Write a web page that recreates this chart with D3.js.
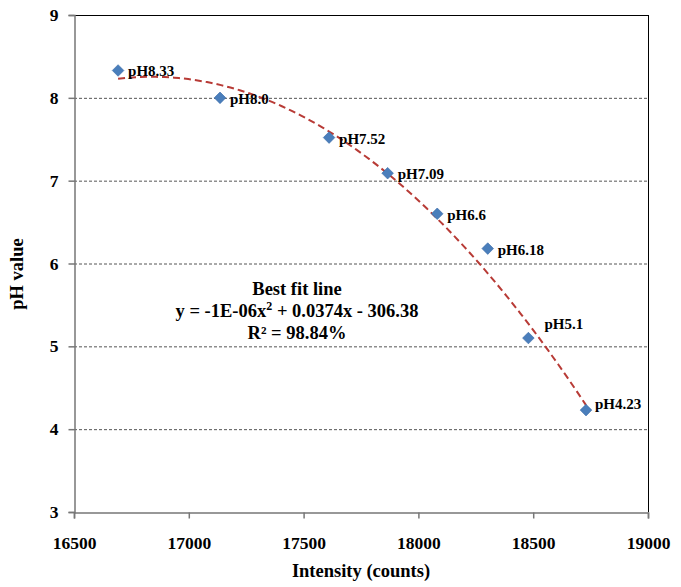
<!DOCTYPE html>
<html><head><meta charset="utf-8">
<script src="https://cdn.jsdelivr.net/npm/d3@7"></script>
<style>body{margin:0;background:#fff}</style>
</head><body>
<svg id="c" width="681" height="587"></svg>
<script>
const intensity = [16692, 17136, 17611, 17866, 18082, 18302, 18479, 18730];
const phValues  = [8.33, 8.0, 7.52, 7.09, 6.6, 6.18, 5.1, 4.23];
const pointLabels = ["pH8.33","pH8.0","pH7.52","pH7.09","pH6.6","pH6.18","pH5.1","pH4.23"];
const xTicks = [16500, 17000, 17500, 18000, 18500, 19000];
const yTicks = [3, 4, 5, 6, 7, 8, 9];
const annotationTitle = "Best fit line";
const equationParts = ["y = -1E-06x", "2", " + 0.0374x - 306.38"];
const rSquared = "R\u00B2 = 98.84%";
// label nudges (pixels) relative to the default right-of-point placement
const labelNudge = [[0,0],[0,0],[0,0],[0,0],[0,0],[0,0],[6,-15],[-1,-7]];

const svg = d3.select("#c");
const L = 74, R = 648, T = 15, B = 512;
const x = d3.scaleLinear().domain([16500, 19000]).range([L, R]);
const y = d3.scaleLinear().domain([3, 9]).range([B, T]);
const font = "Liberation Serif, Times New Roman, serif";

// gridlines
svg.append("g").selectAll("line").data(yTicks.filter(d => d > 3 && d < 9)).join("line")
  .attr("x1", L).attr("x2", R).attr("y1", d => y(d) + 0.5).attr("y2", d => y(d) + 0.5)
  .attr("stroke", "#555").attr("stroke-width", 1).attr("stroke-dasharray", "3,2");

// frame top/right
svg.append("line").attr("x1", L).attr("x2", R + 0.5).attr("y1", T + 0.5).attr("y2", T + 0.5).attr("stroke", "#000");
svg.append("line").attr("x1", R + 0.5).attr("x2", R + 0.5).attr("y1", T).attr("y2", B).attr("stroke", "#000");

// axes
const xAxis = svg.append("g").attr("transform", `translate(0,${B + 0.5})`)
  .call(d3.axisBottom(x).tickValues(xTicks).tickFormat(d3.format("d")).tickSizeOuter(0).tickSize(6).tickPadding(18));
const yAxis = svg.append("g").attr("transform", `translate(${L + 0.5},0)`)
  .call(d3.axisLeft(y).tickValues(yTicks).tickFormat(d3.format("d")).tickSizeOuter(0).tickSize(6).tickPadding(10));
[xAxis, yAxis].forEach(g => {
  g.attr("font-family", null).attr("font-size", null);
  g.select(".domain").attr("stroke", "#777").attr("stroke-width", 1.5);
  g.selectAll(".tick line").attr("stroke", "#777").attr("stroke-width", 1.5);
  g.selectAll(".tick text").style("font-family", font).style("font-weight", "bold").style("font-size", "17.5px").attr("fill", "#000");
});

// polynomial (order 2) least squares trendline
function polyfit2(xs, ys) {
  const n = xs.length, mx = d3.mean(xs);
  const u = xs.map(v => (v - mx) / 1000);
  let S = [[0,0,0],[0,0,0],[0,0,0]], Y = [0,0,0];
  for (let i = 0; i < n; i++) {
    const p = [1, u[i], u[i]*u[i]];
    for (let a = 0; a < 3; a++) { Y[a] += p[a]*ys[i]; for (let b = 0; b < 3; b++) S[a][b] += p[a]*p[b]; }
  }
  for (let k = 0; k < 3; k++) {
    for (let r = k + 1; r < 3; r++) {
      const f = S[r][k] / S[k][k];
      for (let c = k; c < 3; c++) S[r][c] -= f * S[k][c];
      Y[r] -= f * Y[k];
    }
  }
  const c = [0,0,0];
  for (let k = 2; k >= 0; k--) {
    let s = Y[k];
    for (let j = k + 1; j < 3; j++) s -= S[k][j] * c[j];
    c[k] = s / S[k][k];
  }
  return xv => { const t = (xv - mx) / 1000; return c[0] + c[1]*t + c[2]*t*t; };
}
const fit = polyfit2(intensity, phValues);
const x0 = d3.min(intensity), x1 = d3.max(intensity);
const curve = d3.range(0, 101).map(i => { const xv = x0 + (x1 - x0) * i / 100; return [xv, fit(xv)]; });
svg.append("path").datum(curve)
  .attr("d", d3.line().x(d => x(d[0])).y(d => y(d[1])))
  .attr("fill", "none").attr("stroke", "#B83B36").attr("stroke-width", 2).attr("stroke-dasharray", "7,4");

// points
const pts = intensity.map((v, i) => ({x: v, y: phValues[i], label: pointLabels[i], n: labelNudge[i]}));
svg.append("g").selectAll("path").data(pts).join("path")
  .attr("transform", d => `translate(${x(d.x)},${y(d.y)}) rotate(45)`)
  .attr("d", "M-4.1,-4.1H4.1V4.1H-4.1Z")
  .attr("fill", "#4A7EBB").attr("stroke", "#3A6BA8").attr("stroke-width", 0.6);

svg.append("g").selectAll("text").data(pts).join("text")
  .attr("x", d => x(d.x) + 10 + d.n[0]).attr("y", d => y(d.y) + 6 + d.n[1])
  .style("font-family", font).style("font-weight", "bold").style("font-size", "15px")
  .text(d => d.label);

// annotation
const ann = svg.append("g").attr("text-anchor", "middle")
  .style("font-family", font).style("font-weight", "bold").style("font-size", "18.5px");
ann.append("text").attr("x", 297).attr("y", 295).text(annotationTitle);
const eq = ann.append("text").attr("x", 297).attr("y", 317);
eq.append("tspan").text(equationParts[0]);
eq.append("tspan").attr("dy", -7).style("font-size", "12px").text(equationParts[1]);
eq.append("tspan").attr("dy", 7).text(equationParts[2]);
ann.append("text").attr("x", 297).attr("y", 339).text(rSquared);

// axis titles
svg.append("text").attr("x", 361).attr("y", 577).attr("text-anchor", "middle")
  .style("font-family", font).style("font-weight", "bold").style("font-size", "18.5px").text("Intensity (counts)");
svg.append("text").attr("transform", "translate(23,274) rotate(-90)").attr("text-anchor", "middle")
  .style("font-family", font).style("font-weight", "bold").style("font-size", "18.5px").text("pH value");
</script>
</body></html>
